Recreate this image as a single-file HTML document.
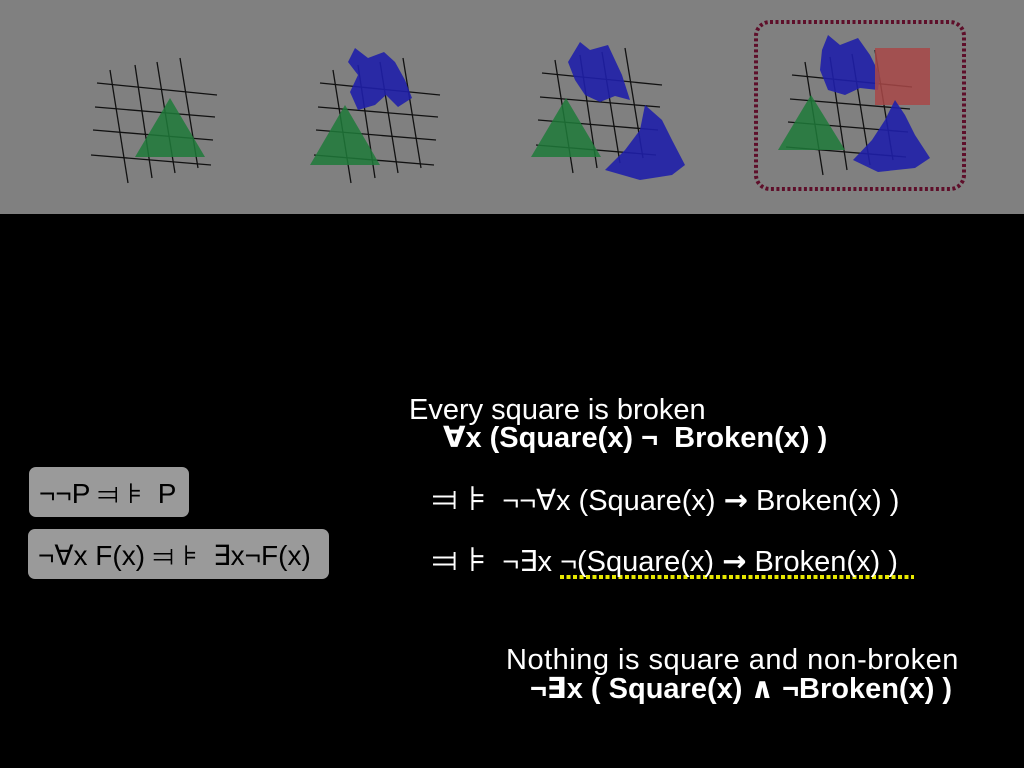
<!DOCTYPE html>
<html><head><style>
body{margin:0;width:1024px;height:768px;background:#000;overflow:hidden;position:relative;font-family:"Liberation Sans","DejaVu Sans",sans-serif;color:#fff}
.t{position:absolute;white-space:nowrap;font-size:29px;line-height:34px}
.b{font-weight:bold}
.s{font-family:"DejaVu Sans",sans-serif}
.k{font-family:"DejaVu Sans",sans-serif;font-size:34px}
.box{position:absolute;background:#9a9a9a;border-radius:7px;color:#000;font-size:28px;white-space:nowrap}
</style></head><body>
<svg width="1024" height="768" style="position:absolute;left:0;top:0">
<rect x="0" y="0" width="1024" height="214" fill="#808080"/>
<g id="g1" stroke="#111" stroke-width="1.3">
<line x1="97" y1="83" x2="217" y2="95"/><line x1="95" y1="107" x2="215" y2="117"/>
<line x1="93" y1="130" x2="213" y2="140"/><line x1="91" y1="155" x2="211" y2="165"/>
<line x1="110" y1="70" x2="128" y2="183"/><line x1="135" y1="65" x2="152" y2="178"/>
<line x1="157" y1="62" x2="175" y2="173"/><line x1="180" y1="58" x2="198" y2="168"/>
</g>
<polygon points="170,98 135,157 205,157" fill="#1f7a3a" opacity="0.85"/>
<use href="#g1" x="223" y="0"/>
<polygon points="355,48 368,58 384,52 395,62 405,80 412,98 398,107 386,95 375,105 358,110 350,92 358,75 348,62" fill="#1f1fa8" opacity="0.9"/>
<polygon points="345,105 310,165 380,165" fill="#1f7a3a" opacity="0.85"/>
<use href="#g1" x="445" y="-10"/>
<polygon points="580,42 590,50 608,45 615,60 622,75 630,100 615,96 600,102 585,95 575,80 568,62" fill="#1f1fa8" opacity="0.9"/>
<polygon points="566,98 531,157 601,157" fill="#1f7a3a" opacity="0.85"/>
<polygon points="645,105 662,120 672,140 685,165 672,175 640,180 605,170 625,150 640,130" fill="#1f1fa8" opacity="0.9"/>
<use href="#g1" x="695" y="-8"/>
<polygon points="828,35 840,45 858,38 870,55 880,75 878,90 860,88 845,95 828,90 820,70 822,50" fill="#1f1fa8" opacity="0.9"/>
<rect x="875" y="48" width="55" height="57" fill="#a84848" opacity="0.85"/>
<polygon points="811,95 778,150 845,150" fill="#1f7a3a" opacity="0.85"/>
<polygon points="895,100 905,115 915,135 930,158 915,168 878,172 853,160 872,140 885,120" fill="#1f1fa8" opacity="0.9"/>
<rect x="756" y="22" width="208" height="167" rx="14" fill="none" stroke="#5e0f2a" stroke-width="4" stroke-dasharray="3,2.5"/>
<line x1="560" y1="577" x2="914" y2="577" stroke="#e8e800" stroke-width="4" stroke-dasharray="4,2.5"/>
</svg>
<div class="t" style="left:409px;top:393px">Every square is broken</div>
<div class="t b" style="left:443px;top:421px">∀x (Square(x) ¬ &nbsp;Broken(x) )</div>
<div class="t" style="left:432px;top:482px"><span class="k">⫤ ⊧</span> &nbsp;¬¬∀x (Square(x) <span class="s b">→</span> Broken(x) )</div>
<div class="t" style="left:432px;top:543px"><span class="k">⫤ ⊧</span> &nbsp;¬∃x ¬(Square(x) <span class="s b">→</span> Broken(x) )</div>
<div class="t" style="left:506px;top:643px;letter-spacing:0.5px">Nothing is square and non-broken</div>
<div class="t b" style="left:530px;top:672px">¬∃x ( Square(x) ∧ ¬Broken(x) )</div>
<div class="box" style="left:29px;top:467px;width:160px;height:50px"><span style="position:absolute;left:10px;top:10px">¬¬P <span class="s">⫤ ⊧</span> &nbsp;P</span></div>
<div class="box" style="left:28px;top:529px;width:301px;height:50px"><span style="position:absolute;left:10px;top:10px">¬∀x F(x) <span class="s">⫤ ⊧</span> &nbsp;∃x¬F(x)</span></div>
</body></html>
